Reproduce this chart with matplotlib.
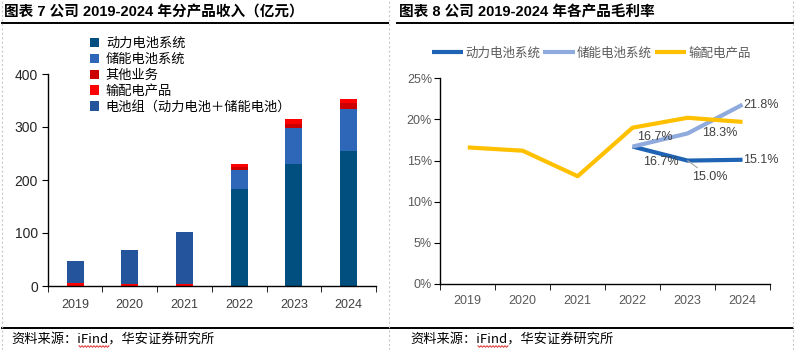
import matplotlib
matplotlib.use('Agg')
import matplotlib.pyplot as plt
from matplotlib.lines import Line2D
from matplotlib.ticker import FixedLocator
import numpy as np

plt.rcParams['font.family'] = ['Liberation Sans', 'Noto Sans CJK SC', 'DejaVu Sans']

W, H = 796, 350

# 图表7 数据（亿元）
years = ['2019', '2020', '2021', '2022', '2023', '2024']
power_sys = [0, 0, 0, 183, 230, 255]        # 动力电池系统
storage_sys = [0, 0, 0, 36.5, 68.5, 79]     # 储能电池系统
other_biz = [0, 0, 0, 4.5, 8, 11]           # 其他业务
transmission = [5, 4, 4, 6, 8, 8]           # 输配电产品
battery_pack = [43, 63, 98.5, 0, 0, 0]      # 电池组（动力电池+储能电池）

# 图表8 数据（毛利率 %）
margin_power = [np.nan, np.nan, np.nan, 16.7, 15.0, 15.1]
margin_storage = [np.nan, np.nan, np.nan, 16.7, 18.3, 21.8]
margin_trans = [16.6, 16.2, 13.1, 19.0, 20.2, 19.7]


def px(x, y):
    return x / W, 1 - y / H


fig = plt.figure(figsize=(W / 100, H / 100), dpi=100, facecolor='white')

# ---------- 左图：分产品收入 ----------
ax1 = fig.add_axes([47.7 / W, 1 - 286 / H, (376 - 47.7) / W, (286 - 74) / H])
x = np.arange(len(years))
bw = 0.31
s1 = np.array(power_sys)
s2 = np.array(storage_sys)
s3 = np.array(other_biz)
s4 = np.array(transmission)
s5 = np.array(battery_pack)
ax1.bar(x, s1, bw, color='#004F7E', label='动力电池系统')
ax1.bar(x, s2, bw, bottom=s1, color='#2E66B8', label='储能电池系统')
ax1.bar(x, s3, bw, bottom=s1 + s2, color='#CC0000', label='其他业务')
ax1.bar(x, s4, bw, bottom=s1 + s2 + s3, color='#FF0000', label='输配电产品')
ax1.bar(x, s5, bw, bottom=s1 + s2 + s3 + s4, color='#24549C', label='电池组（动力电池＋储能电池）')

ax1.set_xlim(-0.5, 5.5)
ax1.set_ylim(0, 400)
ax1.set_yticks([0, 100, 200, 300, 400])
ax1.set_xticks(x)
ax1.set_xticklabels(years)
ax1.xaxis.set_minor_locator(FixedLocator(np.arange(-0.5, 6, 1)))
ax1.tick_params(axis='x', which='major', length=0, pad=9, labelsize=9, colors='#404040')
ax1.tick_params(axis='x', which='minor', length=4, direction='out', color='black')
ax1.tick_params(axis='y', length=4, direction='out', labelsize=10, labelcolor='#262626', pad=3)
for s in ['top', 'right']:
    ax1.spines[s].set_visible(False)
for s in ['left', 'bottom']:
    ax1.spines[s].set_color('black')
    ax1.spines[s].set_linewidth(1)

h1, l1 = ax1.get_legend_handles_labels()
fig.legend(h1, l1, loc='upper left', bbox_to_anchor=px(90, 37), frameon=False,
           handlelength=0.7, handleheight=0.7, handletextpad=0.5,
           labelspacing=0.22, borderpad=0, borderaxespad=0,
           prop={'family': ['Noto Sans CJK SC'], 'size': 9.5})

# ---------- 右图：毛利率 ----------
ax2 = fig.add_axes([440.3 / W, 1 - 284 / H, (770 - 440.3) / W, (284 - 78.3) / H])
ax2.plot(x, margin_power, color='#1F63B4', lw=3, label='动力电池系统', solid_capstyle='butt')
ax2.plot(x, margin_storage, color='#8FAADC', lw=3, label='储能电池系统', solid_capstyle='butt')
ax2.plot(x, margin_trans, color='#FFC000', lw=3, label='输配电产品', solid_capstyle='butt')

ax2.set_xlim(-0.5, 5.5)
ax2.set_ylim(0, 25)
ax2.set_yticks([0, 5, 10, 15, 20, 25])
ax2.set_yticklabels([f'{v}%' for v in [0, 5, 10, 15, 20, 25]])
ax2.set_xticks(x)
ax2.set_xticklabels(years)
ax2.xaxis.set_minor_locator(FixedLocator(np.arange(-0.5, 6, 1)))
ax2.tick_params(axis='x', which='major', length=0, pad=8, labelsize=9, colors='#595959')
ax2.tick_params(axis='x', which='minor', length=4, direction='out', color='black')
ax2.tick_params(axis='y', length=4, direction='out', labelsize=9, labelcolor='#595959', pad=2)
for s in ['top', 'right']:
    ax2.spines[s].set_visible(False)
for s in ['left', 'bottom']:
    ax2.spines[s].set_color('black')
    ax2.spines[s].set_linewidth(1)

lab = dict(textcoords='offset pixels', fontsize=9, color='#404040')
ax2.annotate(f'{margin_storage[3]:.1f}%', (3, margin_storage[3]), xytext=(4, 10), ha='left', va='center', **lab)
ax2.annotate(f'{margin_power[3]:.1f}%', (3, margin_power[3]), xytext=(10, -15), ha='left', va='center', **lab)
ax2.annotate(f'{margin_power[4]:.1f}%', (4, margin_power[4]), xytext=(22, -16), ha='center', va='center',
             arrowprops=dict(arrowstyle='-', color='#A6A6A6', lw=0.8, shrinkA=0, shrinkB=0), **lab)
ax2.annotate(f'{margin_storage[4]:.1f}%', (4, margin_storage[4]), xytext=(14, 0), ha='left', va='center', **lab)
ax2.annotate(f'{margin_storage[5]:.1f}%', (5, margin_storage[5]), xytext=(1, 0), ha='left', va='center', **lab)
ax2.annotate(f'{margin_power[5]:.1f}%', (5, margin_power[5]), xytext=(1, 0), ha='left', va='center', **lab)

h2, l2 = ax2.get_legend_handles_labels()
fig.legend(h2, l2, loc='center left', bbox_to_anchor=px(432, 53), frameon=False, ncol=3,
           handlelength=2.5, handletextpad=0.2, columnspacing=0.2, borderpad=0, borderaxespad=0,
           prop={'family': ['Noto Sans CJK SC'], 'size': 9}, labelcolor='#595959')

# ---------- 标题、分隔线、来源 ----------
fig.text(*px(4, 12), '图表 7 公司 2019-2024 年分产品收入（亿元）', fontsize=10.5, fontweight='bold',
         va='center', ha='left', color='black')
fig.text(*px(399, 12), '图表 8 公司 2019-2024 年各产品毛利率', fontsize=10.5, fontweight='bold',
         va='center', ha='left', color='black')

fig.add_artist(Line2D([px(2, 0)[0], px(388, 0)[0]], [px(0, 23.3)[1]] * 2, color='black', lw=1.4))
fig.add_artist(Line2D([px(397, 0)[0], px(793, 0)[0]], [px(0, 23.3)[1]] * 2, color='black', lw=1.4))
fig.add_artist(Line2D([px(2, 0)[0], px(793, 0)[0]], [px(0, 327.7)[1]] * 2, color='black', lw=1.4))
for xv in [2, 388.5, 792.5]:
    fig.add_artist(Line2D([px(xv, 0)[0]] * 2, [0, 1], color='#C8C8C8', lw=0.8, ls=(0, (2, 2))))

src = '资料来源：iFind，华安证券研究所'
fig.text(*px(11, 340), src, fontsize=9.5, va='center', ha='left', color='black',
         family=['Noto Sans CJK SC'])
fig.text(*px(410, 340), src, fontsize=9.5, va='center', ha='left', color='black',
         family=['Noto Sans CJK SC'])

# 拼写检查波浪线
for x0 in [79, 478]:
    wx = np.arange(x0, x0 + 31, 1.5)
    wy = 346.5 + np.where(np.arange(len(wx)) % 2 == 0, -0.8, 0.8)
    fig.add_artist(Line2D(wx / W, 1 - wy / H, color='#E03030', lw=0.7))

fig.savefig('out.png', dpi=100, facecolor='white')
